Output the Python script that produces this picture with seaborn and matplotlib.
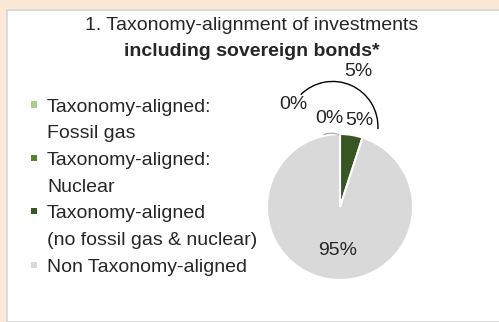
import matplotlib
matplotlib.use("Agg")
import matplotlib.pyplot as plt
from matplotlib.patches import Rectangle, Arc
import seaborn as sns

# data
categories = ['Taxonomy-aligned:\nFossil gas', 'Taxonomy-aligned:\nNuclear',
              'Taxonomy-aligned\n(no fossil gas & nuclear)', 'Non Taxonomy-aligned']
values = [0, 0, 5, 95]
colors = ['#A9D18E', '#548235', '#375623', '#D9D9D9']
total_aligned = 5
title_1 = '1. Taxonomy-alignment of investments'
title_2 = 'including sovereign bonds*'

sns.set_theme(style='white')
plt.rcParams['font.family'] = ['Liberation Sans', 'DejaVu Sans']
txt = '#262626'

W, H = 499, 322
fig = plt.figure(figsize=(W / 100, H / 100), dpi=100)
fig.patch.set_facecolor('#FBE8D6')

# white panel with thin grey border
panel = Rectangle((7 / W, 0), 1, 1 - 9.5 / H, transform=fig.transFigure,
                  facecolor='white', edgecolor='#D6D6D6', linewidth=1.2, zorder=-5)
fig.patches.append(panel)

fs = 14
fig.text(252 / W, 1 - 25 / H, title_1, ha='center', va='center', fontsize=fs, color=txt)
fig.text(252 / W, 1 - 52 / H, title_2, ha='center', va='center', fontsize=fs,
         fontweight='bold', color=txt)

# pie: centre (340, 207) px, radius 73 px
R = 73
half = 110
ax = fig.add_axes([(340 - half) / W, (H - 207 - half) / H, 2 * half / W, 2 * half / H])
ax.pie(values, colors=colors, startangle=90, counterclock=False, radius=1,
       wedgeprops=dict(edgecolor='white', linewidth=1.5))
lim = half / R
ax.set_xlim(-lim, lim)
ax.set_ylim(-lim, lim)
ax.set_aspect('equal')
ax.axis('off')

pct_pos = [(-0.64, 1.40), (-0.14, 1.21), (0.27, 1.19), (-0.03, -0.60)]
for v, (x, y) in zip(values, pct_pos):
    ax.text(x, y, f'{v}%', ha='center', va='center', fontsize=fs, color=txt)

# bracket arc for total taxonomy-aligned share
ax.add_patch(Arc((-0.10, 1.10), 1.24, 1.24, theta1=-3, theta2=135,
                 color='black', linewidth=1.0, clip_on=False))
ax.text(0.25, 1.85, f'{total_aligned}%', ha='center', va='center', fontsize=fs, color=txt)
# small grey leader at top of pie
ax.add_patch(Arc((-0.12, 0.96), 0.26, 0.10, theta1=15, theta2=165,
                 color='#A6A6A6', linewidth=0.8, clip_on=False))

# legend
row_y = 107
for cat, col in zip(categories, colors):
    lines = cat.split('\n')
    fig.patches.append(Rectangle((31 / W, 1 - (row_y + 0.5) / H), 6 / W, 6 / H,
                                 transform=fig.transFigure, facecolor=col,
                                 edgecolor='none'))
    for ln in lines:
        fig.text(47 / W, 1 - row_y / H, ln, ha='left', va='center', fontsize=fs, color=txt)
        row_y += 26.7

fig.savefig('out.png', dpi=100)
